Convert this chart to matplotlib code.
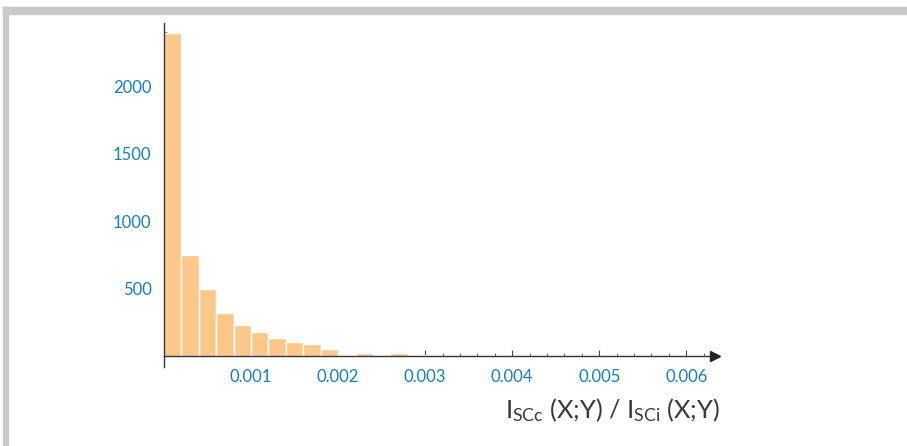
import matplotlib
matplotlib.use("Agg")
import matplotlib.pyplot as plt
from matplotlib.patches import Rectangle
from matplotlib.ticker import MultipleLocator

# histogram bins (width 0.0002) and counts
bin_edges = [i * 0.0002 for i in range(16)]
counts = [2390, 746, 494, 321, 230, 178, 133, 101, 87, 52, 5, 22, 5, 22, 5]
x_ticks = [0.001, 0.002, 0.003, 0.004, 0.005, 0.006]
x_tick_labels = ["0.001", "0.002", "0.003", "0.004", "0.005", "0.006"]
y_ticks = [500, 1000, 1500, 2000]

plt.rcParams['font.family'] = ['Lato', 'DejaVu Sans']
plt.rcParams['mathtext.fontset'] = 'custom'
plt.rcParams['mathtext.rm'] = 'Lato'
plt.rcParams['mathtext.it'] = 'Lato'

W, H = 907, 446
fig = plt.figure(figsize=(W / 100, H / 100), dpi=100)

# gray frame on top and left
fig.patches.append(Rectangle((3 / W, 1 - 14 / H), 1, 7 / H, transform=fig.transFigure,
                             color='#c8c9cb', zorder=0))
fig.patches.append(Rectangle((3 / W, 0), 5 / W, 1 - 7 / H, transform=fig.transFigure,
                             color='#c8c9cb', zorder=0))

ax = fig.add_axes([164 / W, (H - 367) / H, (715 - 164) / W, (367 - 23) / H])
ax.patch.set_alpha(0)

widths = [bin_edges[i + 1] - bin_edges[i] for i in range(len(counts))]
ax.bar(bin_edges[:-1], counts, width=widths, align='edge', color='#fbc88a',
       edgecolor='white', linewidth=1.0, zorder=2)

ax.set_xlim(0, 0.00633)
ax.set_ylim(-81, 2467)

for s in ['top', 'right']:
    ax.spines[s].set_visible(False)
ax.spines['bottom'].set_position(('data', 0))
ax.spines['left'].set_color('#333333')
ax.spines['bottom'].set_color('#333333')
ax.spines['left'].set_linewidth(1.0)
ax.spines['bottom'].set_linewidth(1.0)
ax.spines['left'].set_zorder(3)

# arrow head at end of the x axis
ax.plot(1.0, 0, marker='>', markersize=7, color='#222222',
        transform=ax.get_yaxis_transform(), clip_on=False, zorder=4)

ax.set_xticks(x_ticks)
ax.set_xticklabels(x_tick_labels)
ax.xaxis.set_minor_locator(MultipleLocator(0.0002))
ax.set_yticks(y_ticks)
ax.yaxis.set_minor_locator(MultipleLocator(100))

ax.tick_params(axis='both', which='major', direction='in', length=4, width=0.8,
               color='#444444', labelcolor='#1a7cc1', labelsize=12)
ax.tick_params(axis='both', which='minor', direction='in', length=2.5, width=0.6,
               color='#444444')
ax.tick_params(axis='x', which='both', pad=9)
ax.tick_params(axis='y', which='both', pad=9)

fig.text(720 / W, 1 - 410 / H, r'I$_{\mathregular{SCc}}$ (X;Y) / I$_{\mathregular{SCi}}$ (X;Y)',
         ha='right', va='center', fontsize=18.3, color='#3a3a3a')

fig.savefig('out.png', dpi=100)
